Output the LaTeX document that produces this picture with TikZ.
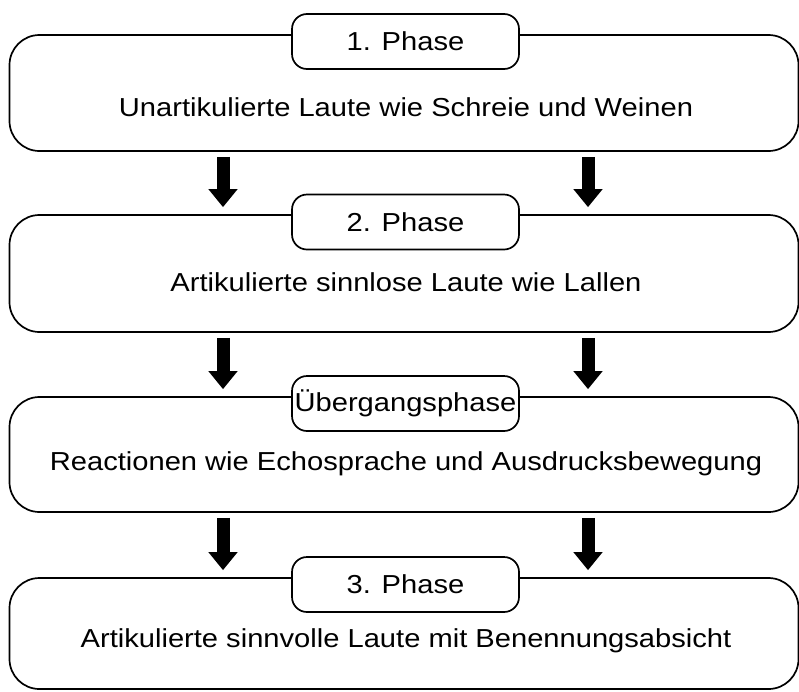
\documentclass[tikz,border=0pt]{standalone}
\usepackage{fontspec}
\setmainfont[FakeStretch=1.12]{Liberation Sans}
\usetikzlibrary{arrows.meta,calc}
\begin{document}
\begin{tikzpicture}[x=1pt,y=-1pt,
  bigbox/.style={draw=black, line width=1.7pt, rounded corners=30pt, minimum width=789pt, inner sep=0pt},
  phasebox/.style={draw=black, fill=white, line width=1.7pt, rounded corners=15pt, minimum width=227pt, minimum height=55pt, inner sep=0pt, font=\fontsize{26}{31}\selectfont},
  maintext/.style={inner sep=0pt, font=\fontsize{26}{31}\selectfont},
  fatarrow/.style={line width=13pt, -{Triangle[width=28pt,length=18pt]}}
]
\useasboundingbox (0,0) rectangle (799,691);
% boxes
\node[bigbox, minimum height=116pt] (b1) at (404,93) {};
\node[bigbox, minimum height=117pt] (b2) at (404,273.5) {};
\node[bigbox, minimum height=115pt] (b3) at (404,454.5) {};
\node[bigbox, minimum height=111pt] (b4) at (404,633.5) {};
% labels
\node[phasebox] (l1) at (405.5,41.5) {1. Phase};
\node[phasebox] (l2) at (405.5,222) {2. Phase};
\node[phasebox] (l3) at (405.5,403.5) {Übergangsphase};
\node[phasebox] (l4) at (405.5,584.5) {3. Phase};
% texts
\node[maintext] (t1) at (406,107) {Unartikulierte Laute wie Schreie und Weinen};
\node[maintext] (t2) at (406,282) {Artikulierte sinnlose Laute wie Lallen};
\node[maintext] (t3) at (406,464) {Reactionen wie Echosprache und Ausdrucksbewegung};
\node[maintext] (t4) at (406,641) {Artikulierte sinnvolle Laute mit Benennungsabsicht};
% arrows
\draw[fatarrow] ($(b1.south)+(-181,5)$) -- ($(b2.north)+(-181,-7)$);
\draw[fatarrow] ($(b1.south)+(184,5)$) -- ($(b2.north)+(184,-7)$);
\draw[fatarrow] ($(b2.south)+(-181,5)$) -- ($(b3.north)+(-181,-7)$);
\draw[fatarrow] ($(b2.south)+(184,5)$) -- ($(b3.north)+(184,-7)$);
\draw[fatarrow] ($(b3.south)+(-181,5)$) -- ($(b4.north)+(-181,-7)$);
\draw[fatarrow] ($(b3.south)+(184,5)$) -- ($(b4.north)+(184,-7)$);
\end{tikzpicture}
\end{document}
